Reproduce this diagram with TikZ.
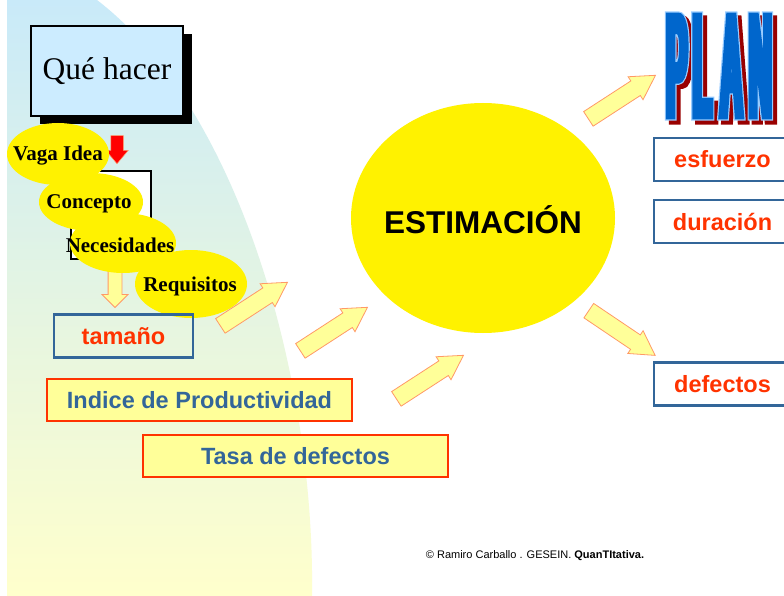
\documentclass[tikz,border=0pt]{standalone}
\usepackage{fontspec}
\setmainfont{Liberation Serif}
\setsansfont{Liberation Sans}
\newfontfamily\planfont{Liberation Sans}[FakeStretch=0.21]
\usetikzlibrary{shapes.geometric,shapes.arrows,shadows}
\definecolor{bgtop}{HTML}{C9EAF9}
\definecolor{bgbot}{HTML}{FFFFCC}
\definecolor{skyfill}{HTML}{CCECFF}
\definecolor{paleyel}{HTML}{FFFF99}
\definecolor{peach}{HTML}{FF9966}
\definecolor{redline}{HTML}{FF3300}
\definecolor{steel}{HTML}{336699}
\definecolor{planblue}{HTML}{0066CC}
\definecolor{planedge}{HTML}{99CCFF}
\definecolor{planshade}{HTML}{990000}
\newcommand{\planword}[1]{\special{pdf:literal direct 2 Tr #1 w}\planfont\bfseries\fontsize{148}{150}\selectfont P\kern5.6pt L\kern8.4pt A\kern6.6pt N\special{pdf:literal direct 0 Tr}}
\tikzset{
  idea/.style={ellipse,fill=yellow,inner sep=0pt},
  ideatxt/.style={inner sep=0pt,font=\fontsize{21}{24}\selectfont\bfseries},
  outbox/.style={draw=steel,line width=2.5pt,minimum height=43pt,text=redline,font=\fontsize{23.5}{28}\selectfont\sffamily\bfseries},
  inbox/.style={draw=redline,line width=2.5pt,fill=paleyel,minimum width=305pt,minimum height=42pt,text=steel,font=\fontsize{23.5}{28}\selectfont\sffamily\bfseries},
  fat/.style={single arrow,fill=paleyel,draw=peach,line width=0.8pt,inner xsep=0pt,inner ysep=8.3pt,minimum height=80pt,minimum width=27pt,single arrow head extend=5pt,single arrow tip angle=60},
  plan/.style={inner sep=0pt}
}
\begin{document}
\begin{tikzpicture}[x=1pt,y=-1pt]
\clip (0,0) rectangle (784,596);
\fill[white] (0,0) rectangle (784,596);
\shade[top color=bgtop,bottom color=bgbot] (7,0) -- (97,0) .. controls (240,110) and (315,380) .. (312,596) -- (7,596) -- cycle;
\node[draw,line width=2pt,fill=skyfill,minimum width=152pt,minimum height=90pt,font=\fontsize{31.5}{36}\selectfont,drop shadow={shadow xshift=9pt,shadow yshift=-8pt,fill=black,opacity=1}] (que) at (107,71) {Qué hacer};
\node[single arrow,rotate=-90,fill=red,draw=peach,line width=0.5pt,inner xsep=0pt,inner ysep=6pt,minimum height=28pt,minimum width=22pt,single arrow head extend=5pt,single arrow tip angle=80] (down) at (117,146) {};
\node[draw,line width=2.5pt,fill=white,minimum width=80pt,minimum height=88pt] (frame) at (111,215) {};
\node[fat,rotate=-90,inner ysep=6.5pt,minimum height=40pt,minimum width=25pt,single arrow head extend=6pt,single arrow tip angle=90] (tobox) at (115,284) {};
\node[idea,minimum width=102pt,minimum height=62pt] (vaga) at (58,154) {};
\node[ideatxt] (vagatxt) at (58,156) {Vaga Idea};
\node[idea,minimum width=104pt,minimum height=58pt] (concepto) at (91,202) {};
\node[ideatxt] (conceptotxt) at (89,204) {Concepto};
\node[idea,minimum width=106pt,minimum height=60pt] (necesidades) at (123,243) {};
\node[ideatxt] (necesidadestxt) at (120,245) {Necesidades};
\node[idea,minimum width=112pt,minimum height=68pt] (requisitos) at (191,284) {};
\node[ideatxt] (requisitostxt) at (190,286) {Requisitos};
\node[outbox,minimum width=139pt] (tamano) at (123.5,336) {tamaño};
\node[inbox] (indice) at (199.5,400) {Indice de Productividad};
\node[inbox] (tasa) at (295.5,456) {Tasa de defectos};
\node[fat,rotate=33] (a1) at (247.6,308.2) {};
\node[fat,rotate=33] (a2) at (327.6,333.2) {};
\node[fat,rotate=33] (a3) at (423.6,381.2) {};
\node[fat,rotate=33] (a4) at (615.6,101.2) {};
\node[fat,rotate=-34] (a5) at (615.7,328.8) {};
\node[ellipse,fill=yellow,inner sep=0pt,minimum width=264pt,minimum height=230pt] (est) at (483,218) {};
\node[inner sep=0pt,font=\fontsize{31.5}{36}\selectfont\sffamily\bfseries] (esttxt) at (483,220) {ESTIMACIÓN};
\node[plan,text=planshade] (planshadow) at (723,70) {\planword{7.4}};
\node[plan,text=planedge] (planedge) at (719,66) {\planword{7.4}};
\node[plan,text=planblue] (plan) at (719,66) {\planword{5}};
\node[outbox,minimum width=137pt,fill=white] (esfuerzo) at (722.5,159.5) {esfuerzo};
\node[outbox,minimum width=137pt,fill=white] (duracion) at (722.5,221.5) {duración};
\node[outbox,minimum width=137pt,fill=white] (defectos) at (722.5,384) {defectos};
\node[font=\fontsize{11}{13}\selectfont\sffamily] (copy) at (535,556) {© Ramiro Carballo . GESEIN. \textbf{QuanTItativa.}};
\end{tikzpicture}
\end{document}
